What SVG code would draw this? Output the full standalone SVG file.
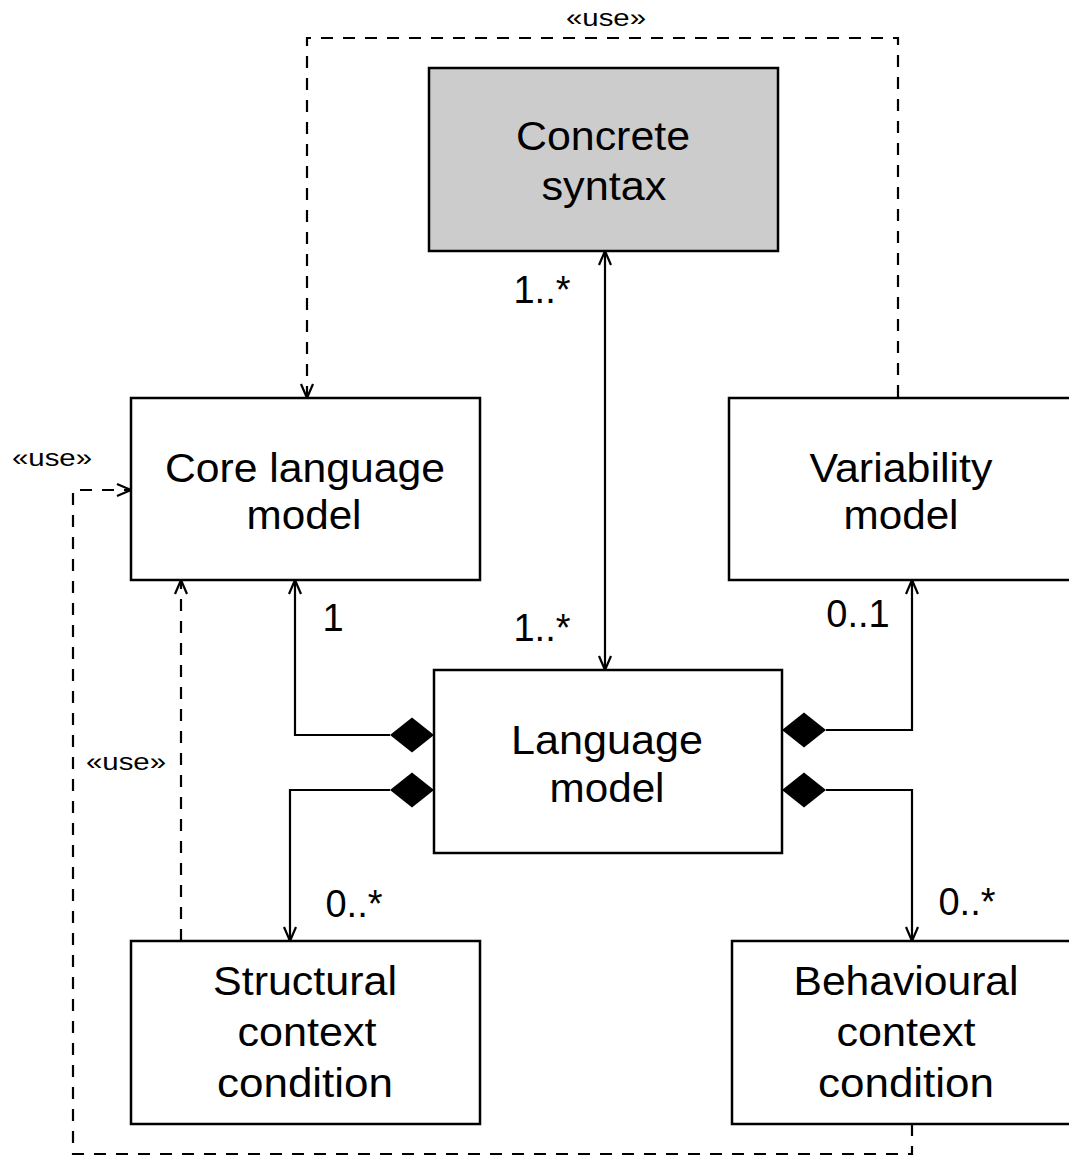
<svg xmlns="http://www.w3.org/2000/svg" width="1069" height="1158" viewBox="0 0 1069 1158">
<style>
.box{fill:#fff;stroke:#000;stroke-width:2.5}
.gray{fill:#cccccc}
.t{font-family:"Liberation Sans",Arial,sans-serif;font-size:40px;text-anchor:middle;fill:#000}
.m{font-family:"Liberation Sans",Arial,sans-serif;font-size:38px;text-anchor:middle;fill:#000}
.u{font-family:"Liberation Sans",Arial,sans-serif;font-size:24px;text-anchor:middle;fill:#000}
.c{fill:none;stroke:#000;stroke-width:2.2}
.d{fill:none;stroke:#000;stroke-width:2.2;stroke-dasharray:12 10}
.dia{fill:#000;stroke:none}
</style>
<defs>
<marker id="open" viewBox="0 0 16 16" refX="15" refY="8" markerWidth="16" markerHeight="16" markerUnits="userSpaceOnUse" orient="auto-start-reverse">
<path d="M1,2 L15,8 L1,14" fill="none" stroke="#000" stroke-width="2.2"/>
</marker>
</defs>
<g id="connectors">
<path class="d" d="M307,398 V38 H898 V398" marker-start="url(#open)"/>
<path class="d" d="M912,1124 V1154 H73 V490 H131" marker-end="url(#open)"/>
<path class="d" d="M181,941 V580" marker-end="url(#open)"/>
<path class="c" d="M605,251 V670" marker-start="url(#open)" marker-end="url(#open)"/>
<path class="c" d="M390,735 H295 V580" marker-end="url(#open)"/>
<path class="c" d="M390,790 H290 V941" marker-end="url(#open)"/>
<path class="c" d="M826,730 H912 V580" marker-end="url(#open)"/>
<path class="c" d="M826,790 H912 V941" marker-end="url(#open)"/>
<polygon class="dia" points="434,735 412,717.5 390,735 412,752.5"/>
<polygon class="dia" points="434,790 412,772.5 390,790 412,807.5"/>
<polygon class="dia" points="782,730 804,712.5 826,730 804,747.5"/>
<polygon class="dia" points="782,790 804,772.5 826,790 804,807.5"/>
<text class="u" x="606" y="26" textLength="80" lengthAdjust="spacingAndGlyphs">«use»</text>
<text class="u" x="52" y="466" textLength="80" lengthAdjust="spacingAndGlyphs">«use»</text>
<text class="u" x="126" y="770" textLength="80" lengthAdjust="spacingAndGlyphs">«use»</text>
<text class="m" x="542" y="303">1..*</text>
<text class="m" x="542" y="641">1..*</text>
<text class="m" x="333" y="631">1</text>
<text class="m" x="858" y="627">0..1</text>
<text class="m" x="354" y="917">0..*</text>
<text class="m" x="967" y="915">0..*</text>
</g>
<g id="concrete-syntax">
<rect class="box gray" x="429" y="68" width="349" height="183"/>
<text class="t" x="603" y="150" textLength="174" lengthAdjust="spacingAndGlyphs">Concrete</text>
<text class="t" x="604" y="200" textLength="125" lengthAdjust="spacingAndGlyphs">syntax</text>
</g>
<g id="core-language-model">
<rect class="box" x="131" y="398" width="349" height="182"/>
<text class="t" x="305" y="482" textLength="280" lengthAdjust="spacingAndGlyphs">Core language</text>
<text class="t" x="304" y="529" textLength="115" lengthAdjust="spacingAndGlyphs">model</text>
</g>
<g id="variability-model">
<rect class="box" x="729" y="398" width="360" height="182"/>
<text class="t" x="901" y="482" textLength="183" lengthAdjust="spacingAndGlyphs">Variability</text>
<text class="t" x="901" y="529" textLength="115" lengthAdjust="spacingAndGlyphs">model</text>
</g>
<g id="language-model">
<rect class="box" x="434" y="670" width="348" height="183"/>
<text class="t" x="607" y="754" textLength="192" lengthAdjust="spacingAndGlyphs">Language</text>
<text class="t" x="607" y="802" textLength="115" lengthAdjust="spacingAndGlyphs">model</text>
</g>
<g id="structural-context-condition">
<rect class="box" x="131" y="941" width="349" height="183"/>
<text class="t" x="305" y="995" textLength="184" lengthAdjust="spacingAndGlyphs">Structural</text>
<text class="t" x="307" y="1046" textLength="139" lengthAdjust="spacingAndGlyphs">context</text>
<text class="t" x="305" y="1097" textLength="176" lengthAdjust="spacingAndGlyphs">condition</text>
</g>
<g id="behavioural-context-condition">
<rect class="box" x="732" y="941" width="360" height="183"/>
<text class="t" x="906" y="995" textLength="225" lengthAdjust="spacingAndGlyphs">Behavioural</text>
<text class="t" x="906" y="1046" textLength="139" lengthAdjust="spacingAndGlyphs">context</text>
<text class="t" x="906" y="1097" textLength="176" lengthAdjust="spacingAndGlyphs">condition</text>
</g>
</svg>
